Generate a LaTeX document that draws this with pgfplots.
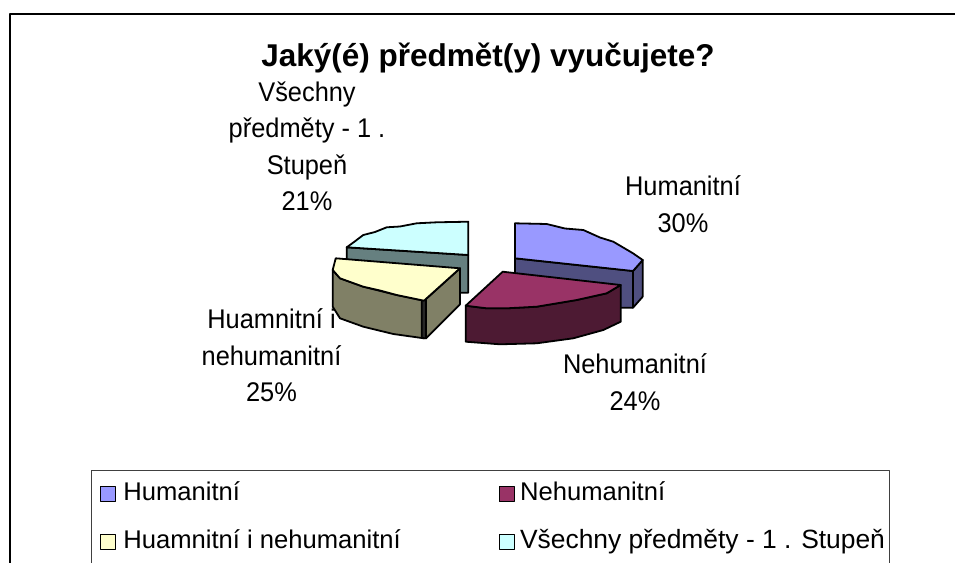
\documentclass[border=0pt]{standalone}
\usepackage{pgfplots}
\pgfplotsset{compat=1.18}
\usepackage{fontspec}
\setmainfont{Liberation Sans}
\newfontfamily\labf[FakeStretch=0.94]{Liberation Sans}
\definecolor{cblue}{HTML}{9999FF}\definecolor{cblues}{HTML}{4F4F80}
\definecolor{cmar}{HTML}{993366}\definecolor{cmars}{HTML}{4D1A33}
\definecolor{cyel}{HTML}{FFFFCC}\definecolor{cyels}{HTML}{808066}
\definecolor{ccya}{HTML}{CCFFFF}\definecolor{ccyas}{HTML}{668080}
\newcommand{\lab}{\labf\fontsize{27bp}{36.5bp}\selectfont}
\begin{document}
\begin{tikzpicture}
\useasboundingbox (0,0) rectangle (955bp,563bp);
\begin{axis}[
  scale only axis, width=955bp, height=563bp,
  xmin=0, xmax=955, ymin=0, ymax=563, y dir=reverse,
  hide axis, clip=true,
  legend columns=2,
  legend cell align=left,
  legend style={at={(axis cs:97,479.5)},anchor=north west,draw=none,fill=none,
    font=\fontsize{25.6bp}{30bp}\selectfont,row sep=26.5bp,
    /tikz/column 2/.style={column sep=98bp},
    nodes={inner sep=0pt,outer sep=0pt}},
  legend image code/.code={\draw[#1,draw=black,line width=1.2bp] (0bp,-10bp) rectangle (15bp,5bp);},
  every axis plot/.append style={draw=black,line width=1.8bp,line join=round},
]
\addlegendimage{fill=cblue}\addlegendentry{\hspace{7bp}Humanitní}
\addlegendimage{fill=cmar}\addlegendentry{\hspace{5bp}Nehumanitní}
\addlegendimage{fill=cyel}\addlegendentry{\hspace{7bp}Huamnitní i nehumanitní}
\addlegendimage{fill=ccya}\addlegendentry{\hspace{5bp}\fontsize{26.4bp}{30bp}\selectfont Všechny předměty - 1 . Stupeň}
% frame
\addplot[forget plot,line width=2bp] coordinates {(955,14.5)(9.5,14.5)(9.5,563)};
\addplot[forget plot,line width=1bp,draw=black!75] coordinates {(91,563)(91,470)(889,470)(889,563)};
% cyan
\addplot[forget plot,fill=ccyas] coordinates {(346.7,247.3)(468.3,255)(468.3,292.7)(440,292.7)(346.7,262)} --cycle;
\addplot[forget plot,fill=ccya] coordinates {(468.3,221.7)(436.7,222.3)(416.7,223.3)(400,226.5)(386.7,227.3)(375,232)(363.3,235)(354,242)(346.7,247.3)(468.3,255)} --cycle;
% yellow
\addplot[forget plot,fill=cyels] coordinates {(332.7,270)(340,278.3)(363.3,286.7)(396.7,295)(424,300.7)(424,338.3)(393.3,334)(363.3,326.7)(340,318.3)(332.7,306.7)} --cycle;
\addplot[forget plot,fill=cyels] coordinates {(426,299)(460,268.3)(460,304.3)(426,338.3)} --cycle;
\addplot[forget plot,fill=black!85] coordinates {(421.7,300)(426,300)(426,338.3)(421.7,338)} --cycle;
\addplot[forget plot,fill=cyel] coordinates {(335.7,258.3)(460,268.3)(424,300.7)(396.7,295)(380,290.5)(363.3,286.7)(340,278.3)(332.7,270)} --cycle;
% blue
\addplot[forget plot,fill=cblues] coordinates {(515,258.3)(633,271)(633,307.7)(620,307.7)(515,290)} --cycle;
\addplot[forget plot,fill=cblues] coordinates {(633,271)(642.7,260)(642.7,296.7)(633,307.7)} --cycle;
\addplot[forget plot,fill=cblue] coordinates {(515,223.3)(546.7,224)(565,228.5)(583.3,230)(600,237.5)(613.3,241.7)(633,253.3)(642.7,260)(633,271)(515,258.3)} --cycle;
% maroon
\addplot[forget plot,fill=cmars] coordinates {(465.7,305.7)(486.7,308.3)(506.7,308.3)(536.7,306.7)(576.7,300)(606.7,293.3)(620.7,285)(620.7,321.7)(603.3,330)(573.3,338.3)(536.7,343.3)(500,344.3)(465.7,341.7)} --cycle;
\addplot[forget plot,fill=cmar] coordinates {(502.7,271.7)(620.7,285)(606.7,293.3)(576.7,300)(536.7,306.7)(506.7,308.3)(486.7,308.3)(465.7,305.7)} --cycle;
% texts
\node[anchor=center,font=\bfseries\fontsize{31.5bp}{36bp}\selectfont] at (axis cs:488,58) {Jaký(é) předmět(y) vyučujete?};
\node[align=center,font=\lab] at (axis cs:683,204) {Humanitní\\30\%};
\node[align=center,font=\lab] at (axis cs:635,382) {Nehumanitní\\24\%};
\node[align=center,font=\lab] at (axis cs:271.5,355.5) {Huamnitní i\\nehumanitní\\25\%};
\node[align=center,font=\lab] at (axis cs:307,146) {Všechny\\předměty - 1 .\\Stupeň\\21\%};
\end{axis}
\end{tikzpicture}
\end{document}
